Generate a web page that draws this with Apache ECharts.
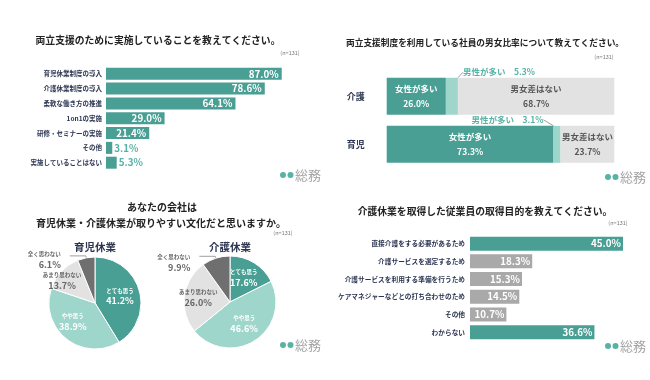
<!DOCTYPE html>
<html><head><meta charset="utf-8">
<script src="https://cdn.jsdelivr.net/npm/echarts@6/dist/echarts.min.js"></script>
<style>html,body{margin:0;padding:0;background:#fff}#c{width:650px;height:380px}</style>
</head><body><div id="c"></div>
<script>
// ---------- DATA ----------
const titles = [
  '両立支援のために実施していることを教えてください。',
  '両立支援制度を利用している社員の男女比率について教えてください。',
  'あなたの会社は',
  '育児休業・介護休業が取りやすい文化だと思いますか。',
  '介護休業を取得した従業員の取得目的を教えてください。'
];
const sampleNote = '(n=131)';
const logoText = '総務';

const p1Categories = ['育児休業制度の導入','介護休業制度の導入','柔軟な働き方の推進','1on1の実施','研修・セミナーの実施','その他','実施していることはない'];
const p1Values = [87.0, 78.6, 64.1, 29.0, 21.4, 3.1, 5.3];

const p2Categories = ['介護','育児'];
const p2SegmentNames = ['女性が多い','男性が多い','男女差はない'];
const p2Female = [26.0, 73.3];
const p2Male = [5.3, 3.1];
const p2None = [68.7, 23.7];

const p3Titles = ['育児休業','介護休業'];
const p3Names = ['とても思う','やや思う','あまり思わない','全く思わない'];
const p3Childcare = [41.2, 38.9, 13.7, 6.1];
const p3Nursing = [17.6, 46.6, 26.0, 9.9];

const p4Categories = ['直接介護をする必要があるため','介護サービスを選定するため','介護サービスを利用する準備を行うため','ケアマネジャーなどとの打ち合わせのため','その他','わからない'];
const p4Values = [45.0, 18.3, 15.3, 14.5, 10.7, 36.6];
const p4Highlight = [true, false, false, false, false, true];

// ---------- STYLE ----------
const FONT = '"Noto Sans CJK JP", "Noto Sans", sans-serif';
const TEAL = '#4a9f94';
const TEAL_TEXT = '#55b3a6';
const LTEAL = '#9fd6cc';
const LGRAY = '#e2e2e2';
const DGRAY = '#6f6f6f';
const BGRAY = '#a9a9a9';
const NAVY = '#2c3652';
const TITLE = '#222';

const chart = echarts.init(document.getElementById('c'));

function txt(x, y, text, size, opts) {
  return {
    type: 'text', x: x, y: y,
    style: Object.assign({ text: text, font: 'bold ' + size + 'px ' + FONT,
      fill: TITLE, textAlign: 'center', textVerticalAlign: 'middle' }, opts && opts.style || {})
  };
}
function note(x, y) {
  return { type: 'text', x: x, y: y, style: { text: sampleNote, font: 'normal 5.5px ' + FONT, fill: '#777', textAlign: 'center', textVerticalAlign: 'middle' } };
}
function logo(x, y) {
  return { type: 'group', x: x, y: y, children: [
    { type: 'circle', shape: { cx: 3, cy: 0, r: 3 }, style: { fill: '#57b3a3' } },
    { type: 'circle', shape: { cx: 10.5, cy: 0, r: 3 }, style: { fill: '#57b3a3' } },
    { type: 'text', x: 15, y: 0, style: { text: logoText, font: 'normal 13px ' + FONT, fill: '#a3a3a3', textVerticalAlign: 'middle' } }
  ]};
}

const fmt = v => v.toFixed(1) + '%';

const pieLabelRich = {
  n: { fontSize: 5.5, fontFamily: FONT, fontWeight: 'bold', lineHeight: 10 },
  v: { fontSize: 9, fontFamily: FONT, fontWeight: 'bold', lineHeight: 11 }
};
function pieData(values, offsets) {
  const cols = [TEAL, LTEAL, LGRAY, DGRAY];
  return values.map((v, i) => {
    const d = { name: p3Names[i], value: v, itemStyle: { color: cols[i] } };
    const inside = i < 3;
    d.label = {
      show: true,
      position: inside ? 'inside' : 'outside',
      color: i < 2 ? '#fff' : '#666',
      formatter: p => '{n|' + p.name + '}\n{v|' + fmt(p.value) + '}',
      rich: pieLabelRich,
      offset: offsets[i] || [0, 0]
    };
    d.labelLine = { show: !inside, length: 2, length2: 16, lineStyle: { color: '#888', width: 0.8 } };
    return d;
  });
}

const option = {
  animation: false,
  textStyle: { fontFamily: FONT },
  grid: [
    { left: 106, top: 66.4, width: 202, height: 103.7 },
    { left: 386.7, top: 72.2, width: 227.6, height: 96.2 },
    { left: 470, top: 234.8, width: 153, height: 106.2 }
  ],
  xAxis: [
    { gridIndex: 0, type: 'value', min: 0, max: 100, show: false },
    { gridIndex: 1, type: 'value', min: 0, max: 100, show: false },
    { gridIndex: 2, type: 'value', min: 0, max: 45, show: false }
  ],
  yAxis: [
    { gridIndex: 0, type: 'category', data: p1Categories, inverse: true,
      axisLine: { show: false }, axisTick: { show: false },
      axisLabel: { color: NAVY, fontSize: 6.5, fontWeight: 'bold', margin: 4, fontFamily: FONT } },
    { gridIndex: 1, type: 'category', data: p2Categories, inverse: true,
      axisLine: { show: false }, axisTick: { show: false },
      axisLabel: { color: NAVY, fontSize: 9, fontWeight: 'bold', margin: 22, fontFamily: FONT } },
    { gridIndex: 2, type: 'category', data: p4Categories, inverse: true,
      axisLine: { show: false }, axisTick: { show: false },
      axisLabel: { color: NAVY, fontSize: 6.7, fontWeight: 'bold', margin: 5, fontFamily: FONT } }
  ],
  series: [
    { type: 'bar', xAxisIndex: 0, yAxisIndex: 0, barWidth: 12,
      data: p1Values.map(v => ({ value: v,
        label: v < 10 ? { position: 'right', color: TEAL_TEXT, distance: 2 } : { position: 'insideRight', color: '#fff', distance: 3 } })),
      itemStyle: { color: TEAL },
      label: { show: true, fontSize: 9.8, fontWeight: 'bold', fontFamily: FONT, formatter: p => fmt(p.value) } },
    { type: 'bar', name: p2SegmentNames[0], xAxisIndex: 1, yAxisIndex: 1, stack: 'g', barWidth: 37,
      data: p2Female, itemStyle: { color: TEAL },
      label: { show: true, position: 'inside', color: '#fff', fontSize: 8.5, fontWeight: 'bold', lineHeight: 15, fontFamily: FONT,
        formatter: p => p.seriesName + '\n' + fmt(p.value) } },
    { type: 'bar', name: p2SegmentNames[1], xAxisIndex: 1, yAxisIndex: 1, stack: 'g', barWidth: 37,
      data: p2Male, itemStyle: { color: LTEAL },
      label: { show: true, position: 'top', color: TEAL_TEXT, fontSize: 8.5, fontWeight: 'bold', fontFamily: FONT,
        formatter: p => p.seriesName + '　' + fmt(p.value) },
      labelLine: { show: true, lineStyle: { color: '#777', width: 0.7 } },
      labelLayout: function (params) {
        const r = params.rect;
        if (params.dataIndex === 0) return { x: r.x + r.width + 5, y: r.y - 5.5, align: 'left', verticalAlign: 'middle' };
        return { x: r.x - 10, y: r.y - 6, align: 'right', verticalAlign: 'middle' };
      } },
    { type: 'bar', name: p2SegmentNames[2], xAxisIndex: 1, yAxisIndex: 1, stack: 'g', barWidth: 37,
      data: p2None, itemStyle: { color: LGRAY },
      label: { show: true, position: 'inside', color: '#555', fontSize: 8.5, fontWeight: 'bold', lineHeight: 15, fontFamily: FONT,
        formatter: p => p.seriesName + '\n' + fmt(p.value) } },
    { type: 'bar', xAxisIndex: 2, yAxisIndex: 2, barWidth: 14,
      data: p4Values.map((v, i) => ({ value: v, itemStyle: { color: p4Highlight[i] ? TEAL : BGRAY } })),
      label: { show: true, position: 'insideRight', color: '#fff', fontSize: 9.8, fontWeight: 'bold', distance: 2, fontFamily: FONT,
        formatter: p => fmt(p.value) } },
    { type: 'pie', center: [95, 303], radius: 46, startAngle: 90, clockwise: true,
      itemStyle: { borderColor: '#fff', borderWidth: 1 },
      data: pieData(p3Childcare, [[0, 0], [-6, -2], [-14, -5], [-4, 4]]) },
    { type: 'pie', center: [230, 302], radius: 46, startAngle: 90, clockwise: true,
      itemStyle: { borderColor: '#fff', borderWidth: 1 },
      data: pieData(p3Nursing, [[0, -2], [0, 0], [-6, -1], [-4, 6]]) }
  ],
  graphic: [
    txt(158, 40, titles[0], 9.8),
    note(290, 53),
    txt(485, 43, titles[1], 8.7),
    note(604, 57),
    txt(162, 207, titles[2], 10),
    txt(161, 223, titles[3], 10),
    note(283, 233),
    txt(95, 247, p3Titles[0], 10.5, { style: { fill: NAVY } }),
    txt(230, 247, p3Titles[1], 10.5, { style: { fill: NAVY } }),
    txt(485, 211, titles[4], 9.8),
    note(618, 223),
    logo(280, 175),
    logo(605, 177),
    logo(280, 345),
    logo(605, 346)
  ]
};
chart.setOption(option);
</script></body></html>
